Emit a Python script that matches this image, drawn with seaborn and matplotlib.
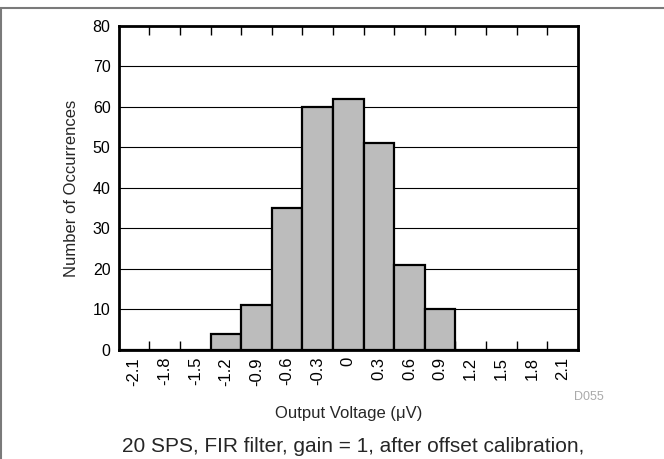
import numpy as np
import matplotlib
matplotlib.use("Agg")
import matplotlib.pyplot as plt
import seaborn as sns

# Histogram data: bin centres (uV) and counts
bins = ["-2.1", "-1.8", "-1.5", "-1.2", "-0.9", "-0.6", "-0.3", "0",
        "0.3", "0.6", "0.9", "1.2", "1.5", "1.8", "2.1"]
counts = [0, 0, 0, 4, 11, 35, 60, 62, 51, 21, 10, 0, 0, 0, 0]
y_ticks = [0, 10, 20, 30, 40, 50, 60, 70, 80]

sns.set_theme(style="white")
plt.rcParams["font.family"] = ["Liberation Sans", "DejaVu Sans"]

fig = plt.figure(figsize=(6.64, 4.59), dpi=100)
ax = fig.add_axes([0.179, 0.2375, 0.691, 0.706])

sns.barplot(x=bins, y=counts, order=bins, color="#bcbcbc", saturation=1,
            edgecolor="black", linewidth=1.6, width=1, ax=ax, zorder=2)

ax.set_xlim(-0.5, len(bins) - 0.5)
ax.set_ylim(0, 80)
ax.set_yticks(y_ticks)
ax.yaxis.grid(True, color="black", linewidth=0.8)
ax.set_axisbelow(True)

# labels at bin centres, small inward ticks at bin edges
ax.set_xticks(range(len(bins)))
ax.set_xticklabels(bins, rotation=90)
ax.set_xticks(np.arange(0.5, len(bins) - 1, 1), minor=True)
ax.tick_params(axis="x", which="major", length=0, pad=5, labelsize=12, colors="black")
ax.tick_params(axis="x", which="minor", direction="in", length=6.5, width=1,
               top=True, bottom=True, color="black")
ax.tick_params(axis="y", length=0, pad=6, labelsize=11.5, colors="black")

for s in ax.spines.values():
    s.set_visible(True)
    s.set_linewidth(2)
    s.set_color("black")

ax.set_xlabel("Output Voltage (\u03bcV)", fontsize=12, labelpad=15)
ax.set_ylabel("Number of Occurrences", fontsize=12, labelpad=10)

fig.text(0.887, 0.135, "D055", fontsize=9, color="#aaaaaa", ha="center", va="center")
fig.text(0.532, 0.028, "20 SPS, FIR filter, gain = 1, after offset calibration,",
         fontsize=15, ha="center", va="center")

# frame lines (top and left)
fig.add_artist(plt.Line2D([0, 1], [0.9815, 0.9815], color="#7a7a7a", lw=1.5))
fig.add_artist(plt.Line2D([0.001, 0.001], [0, 0.9815], color="#7a7a7a", lw=1.5))

fig.savefig("out.png", dpi=100)
